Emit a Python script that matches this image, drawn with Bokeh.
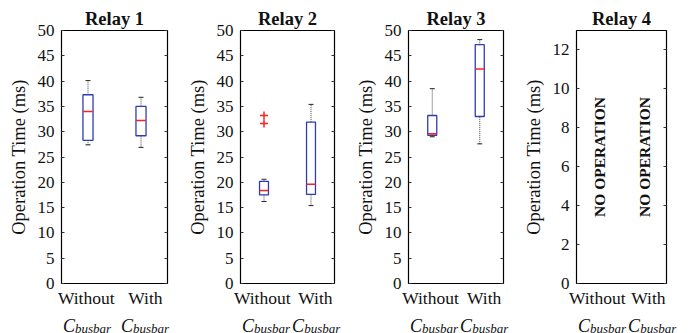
import math
from bokeh.plotting import figure
from bokeh.layouts import row, column
from bokeh.models import Range1d, FixedTicker, LinearAxis
from bokeh.core.properties import value
from bokeh.embed import file_html
from bokeh.resources import INLINE

# ---------------- data ----------------
cases = ["Without", "With"]
case_pos = [1, 2]
sub_main = "C"
sub_text = "busbar"
relay_titles = ["Relay 1", "Relay 2", "Relay 3", "Relay 4"]
y_label = "Operation Time (ms)"

# box statistics: [lower whisker, q1, median, q3, upper whisker]
relay1_without = [27.4, 28.3, 34.0, 37.3, 40.1]
relay1_with = [26.9, 29.2, 32.2, 35.0, 36.8]
relay2_without = [16.2, 17.5, 18.4, 20.2, 20.6]
relay2_with = [15.4, 17.6, 19.6, 31.9, 35.4]
relay3_without = [29.0, 29.3, 29.6, 33.2, 38.5]
relay3_with = [27.6, 33.0, 42.4, 47.2, 48.2]
relay2_without_outliers = [31.6, 33.2]

no_op_text = "NO OPERATION"
y_ticks_ms = [0, 5, 10, 15, 20, 25, 30, 35, 40, 45, 50]
y_max_ms = 50
y_ticks_relay4 = [0, 2, 4, 6, 8, 10, 12]
y_max_relay4 = 13
no_op_y = 6.5

# ---------------- style ----------------
FONT = "Liberation Serif"
TXT = "#111111"
BOX_W = 0.19
TOP_B = 30
FRAME_H = 253
MAIN_H = 333
BOTTOM_B = MAIN_H - TOP_B - FRAME_H
STRIP_TOP = 306             # px from the page top where the strip starts
STRIP_H = 333 - STRIP_TOP
BOX_COLOR = "#2e3cb0"
MED_COLOR = "#ff1f1f"
C_SIZE, SUB_SIZE = 18, 13
C_W = 0.667 * C_SIZE                 # px advance of the italic "C"
CB_W = C_W + 2.778 * SUB_SIZE        # px width of the whole C_busbar label
WITH_SHIFT = 4                       # px shift of the second C_busbar label
LABEL_PAD = ["{}\u2009", "\u2002{}"]  # nudges the two category labels apart


def make_panel(title, frame_w, left_b, right_b, y_max, y_ticks,
               stats=None, outliers=None, no_op=False):
    p = figure(frame_width=frame_w, frame_height=FRAME_H,
               x_range=Range1d(0.5, 2.5), y_range=Range1d(0, y_max),
               output_backend="svg", toolbar_location=None, tools="",
               min_border_left=left_b, min_border_right=right_b,
               min_border_top=TOP_B, min_border_bottom=BOTTOM_B,
               background_fill_color="white", border_fill_color="white")
    p.grid.visible = False
    p.outline_line_color = "black"
    p.outline_line_width = 1.2

    p.title.text = title
    p.title.align = "center"
    p.title.text_font = FONT
    p.title.text_font_size = "18.5px"
    p.title.text_font_style = "bold"
    p.title.text_color = TXT
    p.title.standoff = 4

    xa = p.xaxis[0]
    xa.ticker = FixedTicker(ticks=case_pos)
    xa.major_label_overrides = {pos: pad.format(c) for pos, c, pad
                                in zip(case_pos, cases, LABEL_PAD)}
    xa.major_tick_line_color = None
    xa.major_tick_in = 0
    xa.major_tick_out = 0
    xa.minor_tick_line_color = None
    xa.minor_tick_out = 0
    xa.axis_line_color = None
    xa.major_label_standoff = 4
    xa.major_label_text_font = FONT
    xa.major_label_text_font_size = "17.5px"
    xa.major_label_text_color = TXT

    ya = p.yaxis[0]
    ya.ticker = FixedTicker(ticks=y_ticks)
    ya.major_tick_in = 3
    ya.major_tick_out = 0
    ya.minor_tick_line_color = None
    ya.minor_tick_out = 0
    ya.axis_line_color = None
    ya.major_tick_line_color = "#333333"
    ya.major_label_standoff = 7
    ya.major_label_text_font = FONT
    ya.major_label_text_font_size = "17px"
    ya.major_label_text_color = TXT
    ya.axis_label = y_label
    ya.axis_label_text_font = FONT
    ya.axis_label_text_font_size = "18.5px"
    ya.axis_label_text_font_style = "normal"
    ya.axis_label_text_color = TXT
    ya.axis_label_standoff = 6

    ra = LinearAxis(ticker=FixedTicker(ticks=y_ticks),
                    major_label_overrides={t: "" for t in y_ticks},
                    major_tick_in=3, major_tick_out=0, minor_tick_out=0,
                    minor_tick_line_color=None, axis_line_color=None,
                    major_tick_line_color="#333333", major_label_standoff=0)
    p.add_layout(ra, "right")

    if stats is not None:
        lo = [s[0] for s in stats]
        q1 = [s[1] for s in stats]
        med = [s[2] for s in stats]
        q3 = [s[3] for s in stats]
        hi = [s[4] for s in stats]
        xs = case_pos
        p.segment(x0=xs, y0=q3, x1=xs, y1=hi, line_color="#444444",
                  line_width=1, line_dash="1 1")
        p.segment(x0=xs, y0=lo, x1=xs, y1=q1, line_color="#444444",
                  line_width=1, line_dash="1 1")
        p.scatter(x=xs + xs, y=hi + lo, marker="dash", size=5,
                  line_color="#222222", line_width=1)
        p.vbar(x=xs, top=q3, bottom=q1, width=BOX_W, fill_color=None,
               line_color=BOX_COLOR, line_width=1.3)
        p.segment(x0=[x - BOX_W / 2 for x in xs], y0=med,
                  x1=[x + BOX_W / 2 for x in xs], y1=med,
                  line_color=MED_COLOR, line_width=1.5)
    if outliers is not None:
        ox, oy = outliers
        p.scatter(x=ox, y=oy, marker="cross", size=8, line_color=MED_COLOR,
                  line_width=1.5)
    if no_op:
        p.text(x=case_pos, y=[no_op_y] * len(case_pos),
               text=[no_op_text] * len(case_pos), angle=math.pi / 2,
               text_align="center", text_baseline="middle",
               text_font=value(FONT), text_font_style="bold",
               text_font_size="15.5px", text_color=TXT)

    # transparent strip, lying inside the panel's bottom border,
    # for the C_busbar line of the category labels
    upp = 2.0 / frame_w
    s = figure(frame_width=frame_w + right_b, frame_height=STRIP_H,
               title=None,
               x_range=Range1d(0.5, 2.5 + right_b * upp),
               y_range=Range1d(0, 1),
               min_border_left=left_b, min_border_right=0,
               min_border_top=0, min_border_bottom=0,
               margin=(STRIP_TOP - MAIN_H, 0, 0, 0),
               output_backend="svg", toolbar_location=None, tools="",
               x_axis_location=None, y_axis_location=None,
               background_fill_color=None, border_fill_color=None)
    s.grid.visible = False
    s.outline_line_color = None
    # keep both labels inside the strip's clip box and apart
    q = frame_w / 4
    sh1 = max(-2.0, CB_W / 2 + 1.5 - q)
    sh2 = max(WITH_SHIFT, (q + sh1 + CB_W / 2) + 2 - 3 * q + CB_W / 2)
    shifts = [sh1, sh2]
    ys = [1] * len(case_pos)
    s.text(x=case_pos, y=ys, text=[sub_main] * len(case_pos),
           x_offset=[d - CB_W / 2 for d in shifts], y_offset=19,
           text_align="left", text_baseline="alphabetic",
           text_font=value(FONT), text_font_style="italic",
           text_font_size=f"{C_SIZE}px", text_color=TXT)
    s.text(x=case_pos, y=ys, text=[sub_text] * len(case_pos),
           x_offset=[d - CB_W / 2 + C_W for d in shifts], y_offset=22,
           text_align="left", text_baseline="alphabetic",
           text_font=value(FONT), text_font_style="italic",
           text_font_size=f"{SUB_SIZE}px", text_color=TXT)
    return column(p, s, spacing=0)


c1 = make_panel(relay_titles[0], 106, 61, 8, y_max_ms, y_ticks_ms,
                stats=[relay1_without, relay1_with])
c2 = make_panel(relay_titles[1], 94, 65, 8, y_max_ms, y_ticks_ms,
                stats=[relay2_without, relay2_with],
                outliers=([case_pos[0]] * len(relay2_without_outliers),
                          relay2_without_outliers))
c3 = make_panel(relay_titles[2], 95, 66, 8, y_max_ms, y_ticks_ms,
                stats=[relay3_without, relay3_with])
c4 = make_panel(relay_titles[3], 90, 65, 26, y_max_relay4, y_ticks_relay4,
                no_op=True)

layout = row(c1, c2, c3, c4, spacing=0)
open("out.html", "w").write(file_html(layout, INLINE))
